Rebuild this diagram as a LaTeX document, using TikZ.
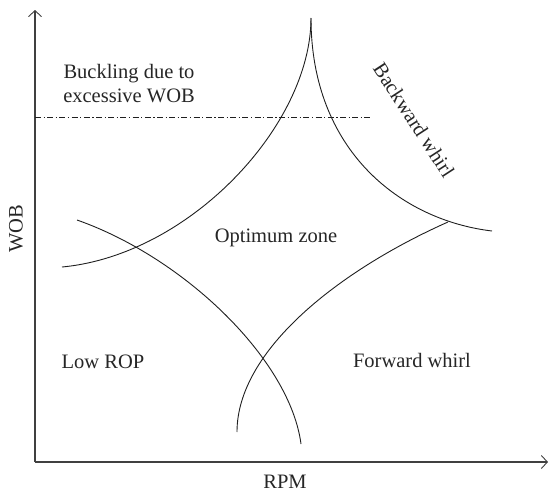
\documentclass[tikz,border=0pt]{standalone}
\usepackage{fontspec}
\setmainfont{Liberation Serif}
\usetikzlibrary{arrows.meta}
\begin{document}
\begin{tikzpicture}[x=1pt,y=-1pt,
  axisline/.style={draw=black!75, line width=1.1pt, -{Straight Barb[length=6pt,width=13pt,line width=0.9pt]}},
  curve/.style={draw=black!88, line width=0.9pt},
  dashdotline/.style={draw=black!88, line width=0.8pt, dash pattern=on 6pt off 2.5pt on 1.2pt off 2.5pt},
  lbl/.style={font=\fontsize{20.5}{24}\selectfont, text=black!85, inner sep=0pt}]
\useasboundingbox (0,0) rectangle (550,493);
% axes
\coordinate (o) at (35,462);
\coordinate (ytip) at (35,10);
\coordinate (xtip) at (548,462);
\draw[axisline] (o) -- (ytip);
\draw[axisline] (o) -- (xtip);
% dash-dot limit
\coordinate (dl) at (35,117);
\coordinate (dr) at (370,117);
\draw[dashdotline] (dl) -- (dr);
% curves
\coordinate (cusp) at (311,18);
\coordinate (c1s) at (62,267);
\coordinate (c2e) at (492,231);
\coordinate (c3s) at (77,220);
\coordinate (c3e) at (301,444);
\coordinate (c4s) at (237,432);
\coordinate (c4e) at (448,222);
\draw[curve] (c1s) .. controls (190,255) and (311,125) .. (cusp);
\draw[curve] (cusp) .. controls (311,150) and (400,220) .. (c2e);
\draw[curve] (c3s) .. controls (185,258) and (290,360) .. (c3e);
\draw[curve] (c4s) .. controls (237,350) and (340,270) .. (c4e);
% labels
\node[lbl, align=center] (buck) at (129,84) {Buckling due to\\excessive WOB};
\node[lbl, rotate=-57] (bw) at (414,120) {Backward whirl};
\node[lbl] (opt) at (276,238) {Optimum zone};
\node[lbl] (lrop) at (103,362) {Low ROP};
\node[lbl] (fw) at (412,360) {Forward whirl};
\node[lbl] (rpm) at (285,482) {RPM};
\node[lbl, rotate=90] (wob) at (16,229) {WOB};
\end{tikzpicture}
\end{document}
